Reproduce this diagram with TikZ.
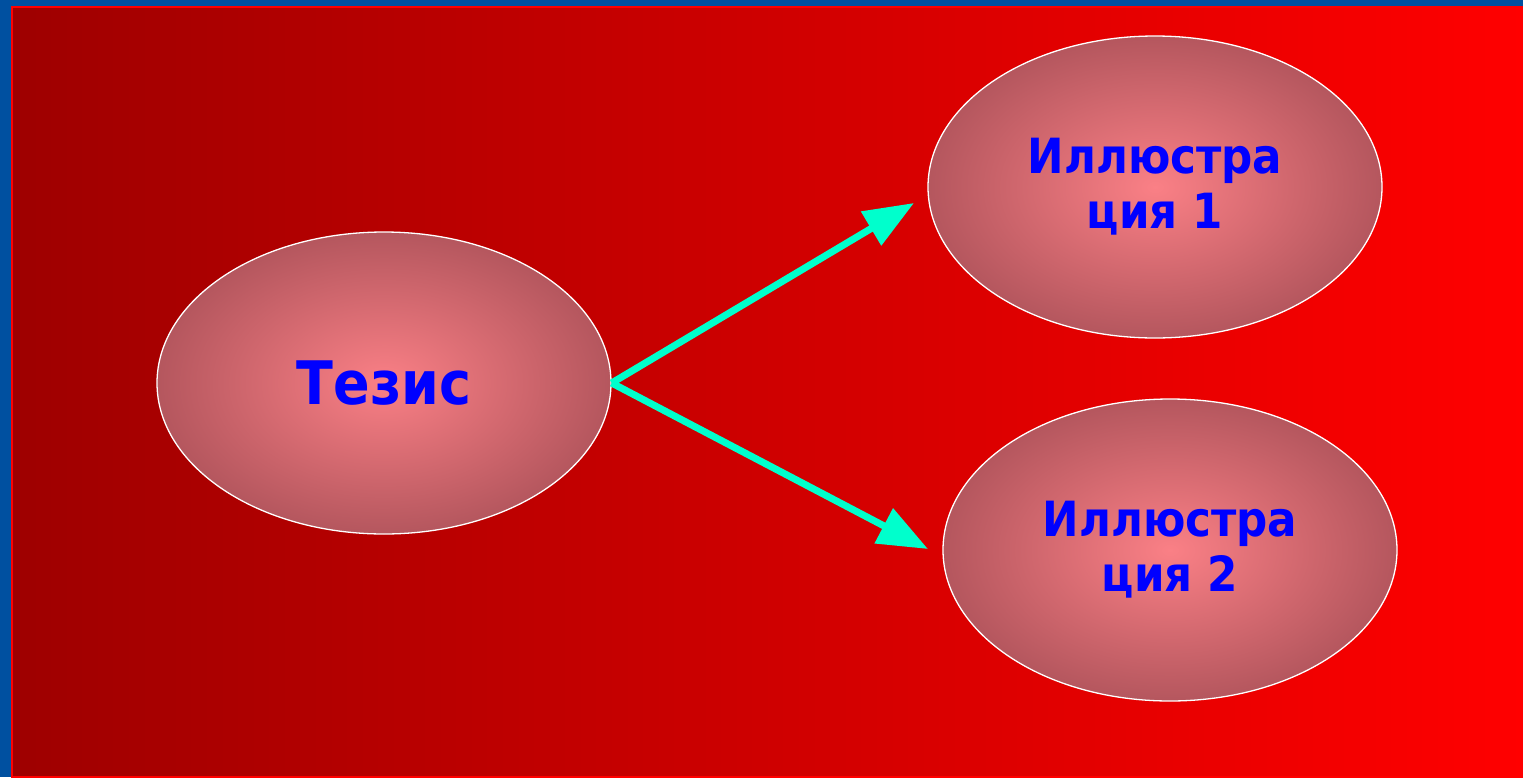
\documentclass[tikz,border=0pt]{standalone}
\usepackage{fontspec}
\usetikzlibrary{arrows.meta,shapes.geometric}
\newfontfamily\ovalfont{DejaVu Sans Condensed}
\definecolor{slideblue}{RGB}{0,80,160}
\definecolor{darkred}{RGB}{158,0,0}
\definecolor{ovalin}{RGB}{250,128,134}
\definecolor{ovalout}{RGB}{150,68,76}
\definecolor{arrowcyan}{RGB}{0,255,204}
\pgfdeclareradialshading{ovalshade}{\pgfpoint{0bp}{0bp}}{color(0bp)=(ovalin); color(36bp)=(ovalout); color(50bp)=(ovalout)}
\tikzset{
  oval/.style={ellipse, draw=white, line width=1.3pt, shading=ovalshade,
    minimum width=454pt, minimum height=302pt, inner sep=0pt,
    align=center, text=blue, font=\ovalfont\bfseries},
  link/.style={draw=arrowcyan, line width=7pt, -{Triangle[length=50pt,width=38pt]}}
}

\begin{document}
\begin{tikzpicture}[x=1pt,y=-1pt]
    \useasboundingbox (0,0) rectangle (1523,777);
    \fill[slideblue] (0,0) rectangle (1523,777);
    \shade[left color=darkred, right color=red, draw=red, line width=1.5pt] (11.75,6.75) rectangle (1523,777);
    \node[oval, font=\ovalfont\bfseries\fontsize{60}{66}\selectfont](tezis) at (384,383){Тезис};
    \node[oval, font=\ovalfont\bfseries\fontsize{48.5}{55}\selectfont](ill1) at (1155,187){Иллюстра\\ция 1};
    \node[oval, font=\ovalfont\bfseries\fontsize{48.5}{55}\selectfont](ill2) at (1170,550){Иллюстра\\ция 2};
    \coordinate (tip1) at (914,203);
    \coordinate (tip2) at (928,549);
    \draw[link](tezis.east)--(tip1);
    \draw[link](tezis.east)--(tip2);
\end{tikzpicture}
\end{document}
